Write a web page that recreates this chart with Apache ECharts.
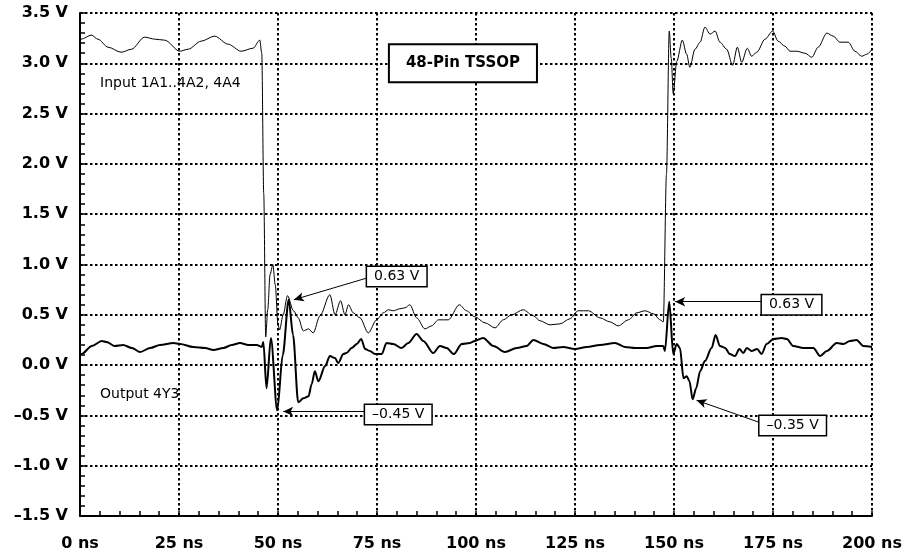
<!DOCTYPE html>
<html><head><meta charset="utf-8">
<script src="https://cdn.jsdelivr.net/npm/echarts@6/dist/echarts.min.js"></script>
<style>html,body{margin:0;padding:0;background:#fff}#c{width:918px;height:559px}</style>
</head><body><div id="c"></div>
<script>
// ---- Data (time in ns, voltage in V) ----
const inputTime = [0,0.3,2.9,4.5,7.1,10.4,13,16.3,18.9,21.4,25.2,27.3,30.6,34,37.4,40.7,43.7,45.4,45.9,46.4,46.9,47.4,48.0,48.7,49.3,50.0,50.4,51.3,52.4,53.9,55.1,56.4,57.7,58.9,60.6,63.1,64.4,65.8,66.9,67.8,69,70.7,72.8,74.9,76.6,77.9,79.1,80.8,82.1,83.3,85,87.1,88.8,90.5,93,95.8,97.6,99.7,102.3,104.8,106.9,109,111.9,114.5,116.2,118.7,121.2,123.7,125.8,128.4,131.3,133.8,135.9,138.5,140.6,142.7,144.8,146.5,147.3,148.1,148.8,149.3,149.8,150.7,152.1,153.2,154,155.3,156.6,157.8,159.1,160.4,161.6,163.3,164.8,166,167.1,168.5,169.6,170.9,173,174.9,176.3,178,179.3,181,183.1,184.8,186.4,188.6,190.2,191.9,194,195.7,197.4,198.7,200];
const inputVolt = [3.22,3.24,3.28,3.24,3.16,3.11,3.14,3.26,3.24,3.23,3.12,3.14,3.22,3.27,3.19,3.12,3.15,3.23,3.10,1.70,0.28,0.55,0.90,1.00,0.80,0.40,0.35,0.50,0.69,0.54,0.47,0.34,0.36,0.32,0.49,0.70,0.50,0.64,0.50,0.60,0.52,0.47,0.32,0.45,0.52,0.55,0.54,0.56,0.57,0.60,0.47,0.36,0.39,0.45,0.45,0.60,0.54,0.48,0.42,0.37,0.45,0.50,0.55,0.49,0.44,0.40,0.41,0.46,0.54,0.54,0.47,0.43,0.39,0.45,0.52,0.54,0.51,0.45,0.43,1.90,3.32,3.05,2.70,3.02,3.23,3.09,2.96,3.14,3.21,3.36,3.29,3.32,3.21,3.14,2.98,3.16,3.01,3.15,3.07,3.11,3.24,3.32,3.22,3.17,3.12,3.12,3.10,3.06,3.16,3.30,3.27,3.21,3.21,3.12,3.07,3.09,3.14];

const outputTime = [0,0.4,3,5.5,6.7,8.8,10.9,13.1,15.2,17.7,20.2,23.6,25.3,28.6,31.6,33.7,36.2,38.3,40.4,42.5,44.6,45.9,46.3,47.1,48.2,49.8,51.2,52.7,53.8,55.1,56.4,57.7,58.5,59.3,60.2,61.9,63.1,64.4,65.2,66.5,67.3,68.6,69.9,71,72,73.2,74.5,76.2,77.4,79.1,81.2,82.9,85,86.7,89.2,90.9,92.6,94.4,96.4,98.5,99.7,101.8,104.4,107.3,110.3,112.8,114.5,117,119.5,122,125,128,131.3,135.1,137.6,140.2,143.1,145.6,147.3,147.7,148.8,149.8,150.7,151.5,152.4,153.2,153.9,154.7,155.6,156.6,157.8,159.5,160.5,161.6,162.9,164.1,165.4,166.5,167.5,168.4,169.6,171,172.1,173.4,175.1,177.2,178.5,180.1,182.7,185.2,186.9,188.6,191.1,192.8,194.4,196.1,197.8,200];
const outputVolt = [0.10,0.11,0.19,0.24,0.23,0.19,0.20,0.17,0.13,0.17,0.20,0.22,0.21,0.18,0.17,0.15,0.17,0.20,0.22,0.20,0.20,0.18,0.23,-0.23,0.27,-0.45,0.10,0.65,0.30,-0.37,-0.33,-0.31,-0.19,-0.06,-0.16,-0.01,0.09,0.07,0.02,0.11,0.12,0.17,0.21,0.26,0.16,0.14,0.11,0.11,0.22,0.21,0.17,0.22,0.31,0.24,0.12,0.19,0.17,0.11,0.21,0.22,0.24,0.27,0.19,0.13,0.17,0.19,0.25,0.21,0.17,0.18,0.16,0.18,0.20,0.22,0.18,0.17,0.17,0.19,0.19,0.14,0.63,0.11,0.21,0.17,-0.13,-0.11,-0.16,-0.34,-0.23,-0.06,0.04,0.17,0.30,0.19,0.17,0.11,0.09,0.16,0.12,0.17,0.14,0.16,0.11,0.21,0.26,0.27,0.26,0.19,0.17,0.17,0.09,0.14,0.22,0.21,0.24,0.25,0.19,0.18];

// Axis settings
const xMin = 0, xMax = 200, xStep = 25;
const yMin = -1.5, yMax = 3.5, yStep = 0.5;

// Callout labels: text, arrow tail (data), arrow tip (data), box anchor (data, left-middle)
const calloutText = ['0.63 V', '\u20130.45 V', '0.63 V', '\u20130.35 V'];
const calloutTail = [[72.5, 0.866], [72.0, -0.46], [172.2, 0.63], [171.6, -0.57]];
const calloutTip  = [[54.0, 0.65], [51.3, -0.46], [150.3, 0.63], [155.7, -0.35]];
const calloutBox  = [[72.5, 0.88], [72.0, -0.49], [172.2, 0.60], [171.6, -0.60]];

const titleText = '48-Pin TSSOP';
const titleAt = [96.7, 3.0];
const inputLabel = 'Input 1A1..4A2, 4A4';
const inputLabelAt = [5.05, 2.80];
const outputLabel = 'Output 4Y3';
const outputLabelAt = [5.05, -0.29];

const zip = (a, b) => a.map((t, i) => [t, b[i]]);
const FONT = '"DejaVu Sans", Arial, sans-serif';

const chart = echarts.init(document.getElementById('c'), null, {renderer: 'canvas'});

const markLines = calloutTail.map((tail, i) => [
  {coord: tail, symbol: 'none'},
  {coord: calloutTip[i], symbol: 'arrow'}
]);

chart.setOption({
  animation: false,
  backgroundColor: '#fff',
  grid: {left: 80, right: 46, top: 13, bottom: 43, containLabel: false},
  xAxis: {
    type: 'value', min: xMin, max: xMax, interval: xStep,
    axisLine: {show: true, onZero: false, lineStyle: {color: '#000', width: 2}},
    axisTick: {show: true, inside: true, length: 5, lineStyle: {color: '#000', width: 1.5}},
    minorTick: {show: true, splitNumber: 5, length: 5, lineStyle: {color: '#000', width: 1.5}},
    axisLabel: {margin: 20, color: '#000', fontFamily: FONT, fontWeight: 'bold', fontSize: 16,
      formatter: v => v + ' ns'},
    splitLine: {show: true, lineStyle: {color: '#000', width: 2, type: [2.5, 2.5]}}
  },
  yAxis: {
    type: 'value', min: yMin, max: yMax, interval: yStep,
    axisLine: {show: true, onZero: false, lineStyle: {color: '#000', width: 2}},
    axisTick: {show: true, inside: true, length: 5, lineStyle: {color: '#000', width: 1.5}},
    minorTick: {show: true, splitNumber: 5, length: 5, lineStyle: {color: '#000', width: 1.5}},
    axisLabel: {margin: 12, color: '#000', fontFamily: FONT, fontWeight: 'bold', fontSize: 16,
      formatter: v => (v < 0 ? '\u2013' : '') + Math.abs(v).toFixed(1) + ' V'},
    splitLine: {show: true, lineStyle: {color: '#000', width: 2, type: [2.5, 2.5]}}
  },
  series: [
    {
      name: 'Input', type: 'line', data: zip(inputTime, inputVolt),
      showSymbol: false, smooth: 0.3, smoothMonotone: 'x',
      lineStyle: {color: '#000', width: 1}, z: 3
    },
    {
      name: 'Output', type: 'line', data: zip(outputTime, outputVolt),
      showSymbol: false, smooth: 0.3, smoothMonotone: 'x',
      lineStyle: {color: '#000', width: 2}, z: 4,
      markLine: {
        silent: true, animation: false, symbolSize: [7, 10],
        label: {show: false},
        lineStyle: {color: '#000', width: 1, type: 'solid'},
        emphasis: {disabled: true},
        data: markLines
      }
    }
  ]
});

function px(p) { return chart.convertToPixel({gridIndex: 0}, p); }

const graphics = [];
calloutText.forEach((txt, i) => {
  const p = px(calloutBox[i]);
  graphics.push({
    type: 'text', x: p[0], y: p[1], z: 100,
    style: {
      text: txt, fill: '#000', font: '14px ' + FONT,
      align: 'left', verticalAlign: 'middle',
      backgroundColor: '#fff', borderColor: '#000', borderWidth: 1.5,
      padding: [3, 7, 2, 7]
    }
  });
});
const tp = px(titleAt);
graphics.push({
  type: 'text', x: tp[0], y: tp[1], z: 100,
  style: {
    text: titleText, fill: '#000', font: 'bold 15px ' + FONT,
    align: 'center', verticalAlign: 'middle',
    backgroundColor: '#fff', borderColor: '#000', borderWidth: 2,
    padding: [11, 16, 10, 16]
  }
});
const ip = px(inputLabelAt);
graphics.push({type: 'text', x: ip[0], y: ip[1], z: 100,
  style: {text: inputLabel, fill: '#000', font: '14px ' + FONT, align: 'left', verticalAlign: 'middle'}});
const op = px(outputLabelAt);
graphics.push({type: 'text', x: op[0], y: op[1], z: 100,
  style: {text: outputLabel, fill: '#000', font: '14px ' + FONT, align: 'left', verticalAlign: 'middle'}});

chart.setOption({graphic: graphics});
</script>
</body></html>
